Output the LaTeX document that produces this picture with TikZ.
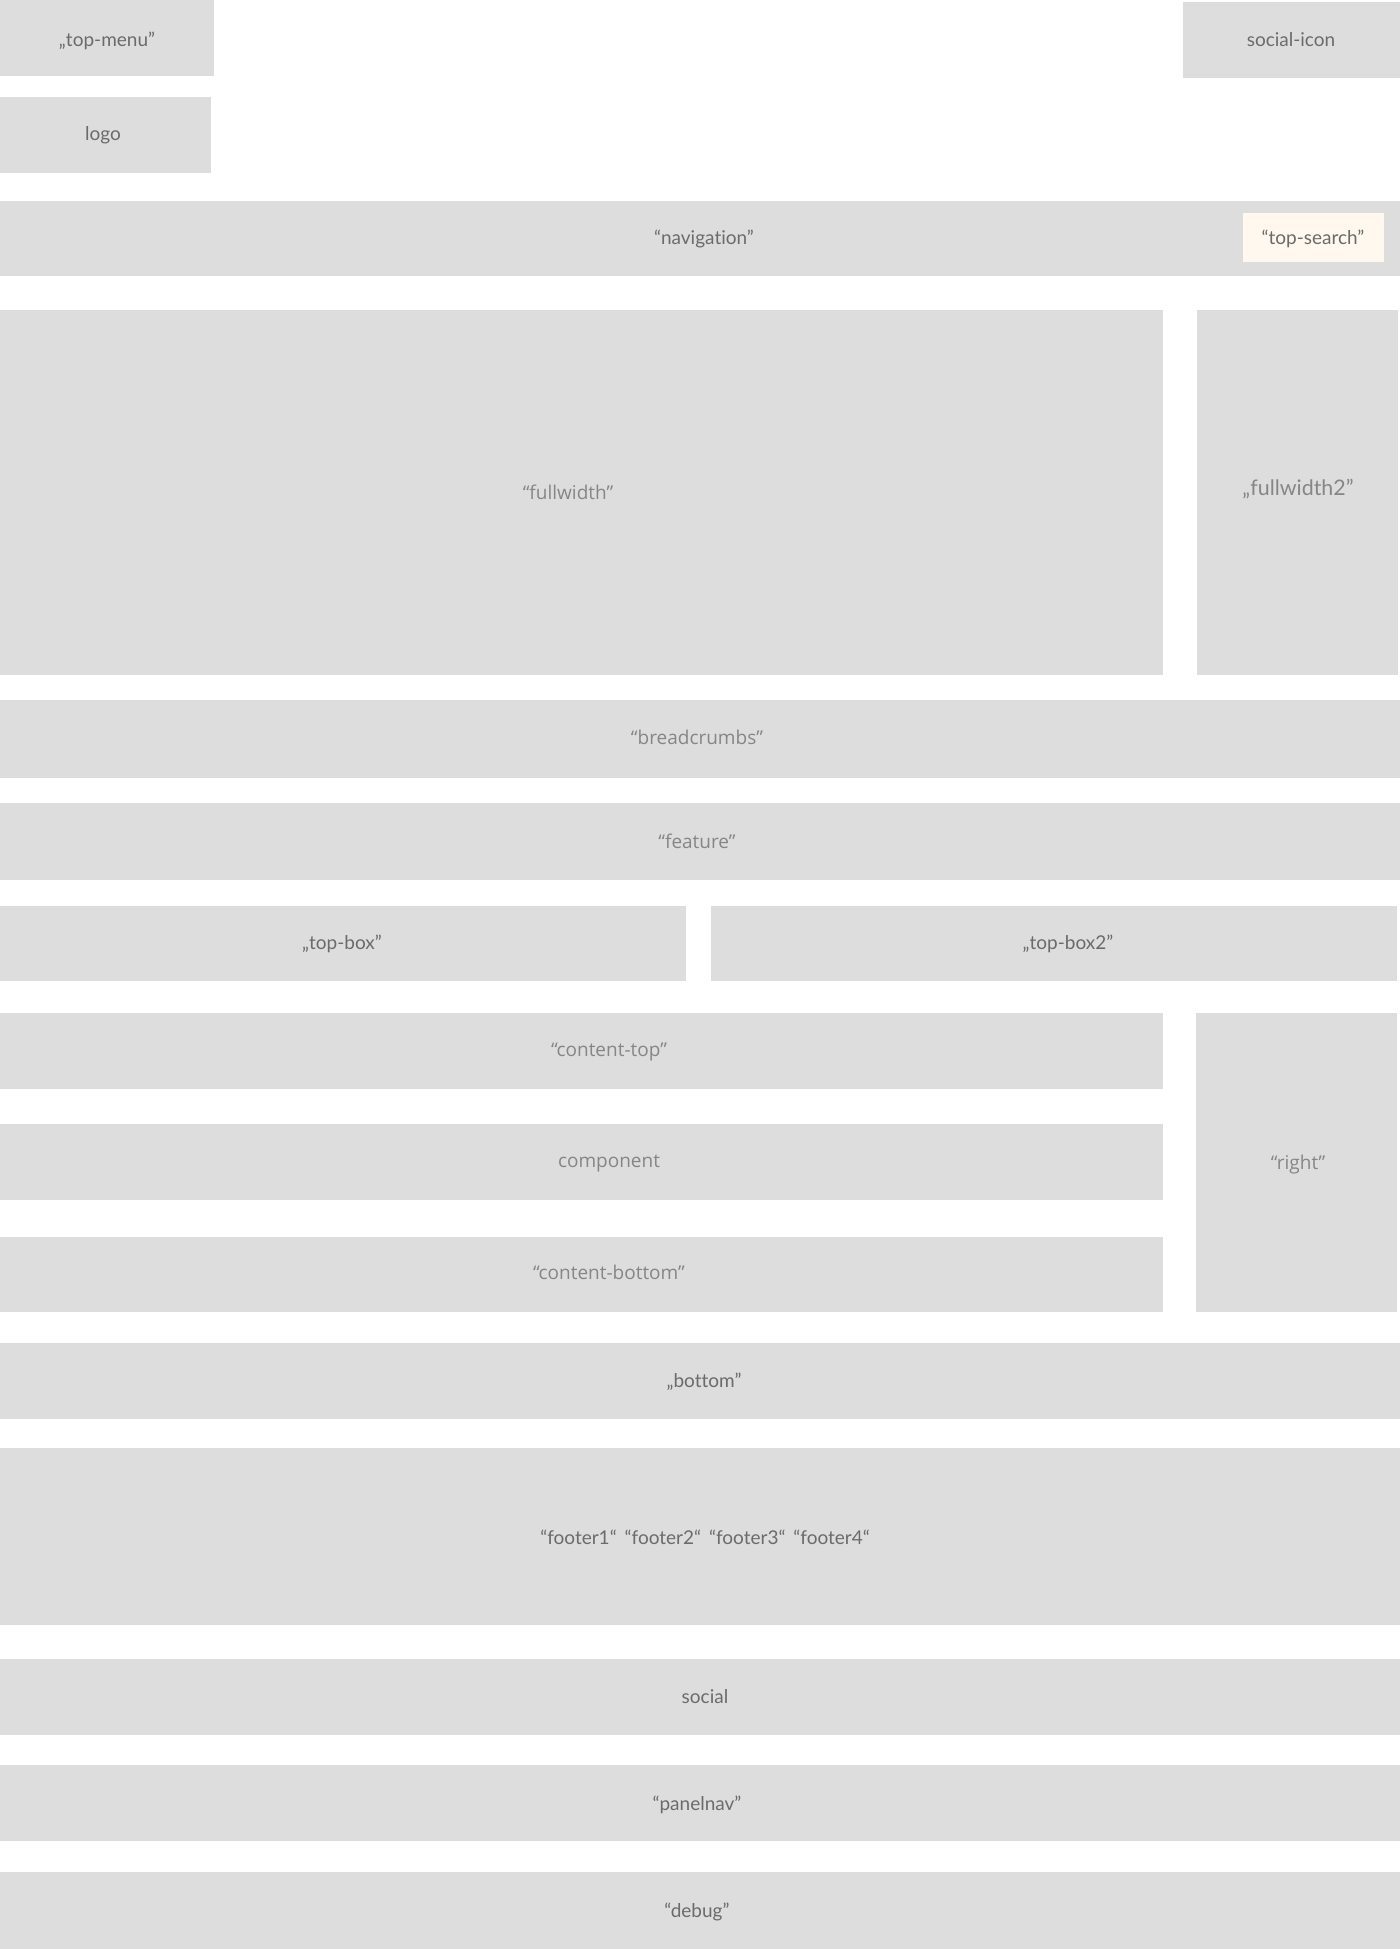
\documentclass[tikz,border=0pt]{standalone}
\usepackage{fontspec}
\setmainfont{Lato}[Ligatures=NoCommon]
\newfontfamily\opensans{Open Sans}
\definecolor{boxgray}{HTML}{DDDDDD}
\definecolor{searchcream}{HTML}{FFF8EE}
\definecolor{labelgray}{HTML}{6B6B6B}
\definecolor{labellight}{HTML}{868686}
\tikzset{
  lbl/.style={text=labelgray, font=\fontsize{9.5}{11}\selectfont, inner sep=0pt},
  olbl/.style={text=labellight, font=\opensans\fontsize{9.5}{11}\selectfont, inner sep=0pt}
}
\begin{document}
\begin{tikzpicture}[x=0.5pt,y=-0.5pt]

\useasboundingbox (0,0) rectangle (1400,1949); % Page

% Header
\fill[boxgray] (0,0) rectangle (214,76); % top-menu
\node[lbl] (topmenu) at (107,41) {„top-menu”};
\fill[boxgray] (1183,2) rectangle (1400,78); % social-icon
\node[lbl] (socialicon) at (1291,40) {social-icon};
\fill[boxgray] (0,97) rectangle (211,173); % logo
\node[lbl] (logo) at (103,135) {logo};

% Navigation with search
\fill[boxgray] (0,201) rectangle (1400,276);
\node[lbl] (navigation) at (704,239) {“navigation”};
\fill[searchcream] (1243,213) rectangle (1384,262);
\node[lbl] (topsearch) at (1313,239) {“top-search”};

% Full width row
\fill[boxgray] (0,310) rectangle (1163,675); % fullwidth
\node[olbl] (fullwidth) at (568,492) {“fullwidth”};
\fill[boxgray] (1197,310) rectangle (1398,675); % fullwidth2
\node[lbl, text=labellight, font=\fontsize{10.7}{12}\selectfont] (fullwidth2) at (1298,489) {„fullwidth2”};

% Breadcrumbs and feature
\fill[boxgray] (0,700) rectangle (1400,778);
\node[olbl] (breadcrumbs) at (697,737) {“breadcrumbs”};
\fill[boxgray] (0,803) rectangle (1400,880);
\node[olbl] (feature) at (697,841) {“feature”};

% Top boxes
\fill[boxgray] (0,906) rectangle (686,981); % top-box
\node[lbl] (topbox) at (342,944) {„top-box”};
\fill[boxgray] (711,906) rectangle (1397,981); % top-box2
\node[lbl] (topboxtwo) at (1068,944) {„top-box2”};

% Content column
\fill[boxgray] (0,1013) rectangle (1163,1089); % content-top
\node[olbl] (contenttop) at (609,1052) {“content-top”};
\fill[boxgray] (0,1124) rectangle (1163,1200); % component
\node[olbl] (component) at (609,1164) {component};
\fill[boxgray] (0,1237) rectangle (1163,1312); % content-bottom
\node[olbl] (contentbottom) at (609,1272) {“content-bottom”};

% Right column
\fill[boxgray] (1196,1013) rectangle (1397,1312);
\node[olbl] (right) at (1298,1165) {“right”};

% Bottom rows
\fill[boxgray] (0,1343) rectangle (1400,1419); % bottom
\node[lbl] (bottom) at (704,1382) {„bottom”};
\fill[boxgray] (0,1448) rectangle (1400,1625); % footers
\node[lbl] (footer) at (705,1537) {“footer1“\hspace{4pt}“footer2“\hspace{4pt}“footer3“\hspace{4pt}“footer4“};
\fill[boxgray] (0,1659) rectangle (1400,1735); % social
\node[lbl] (social) at (705,1697) {social};
\fill[boxgray] (0,1765) rectangle (1400,1841); % panelnav
\node[lbl] (panelnav) at (697,1805) {“panelnav”};
\fill[boxgray] (0,1872) rectangle (1400,1949); % debug
\node[lbl] (debug) at (697,1912) {“debug”};

\end{tikzpicture}
\end{document}
